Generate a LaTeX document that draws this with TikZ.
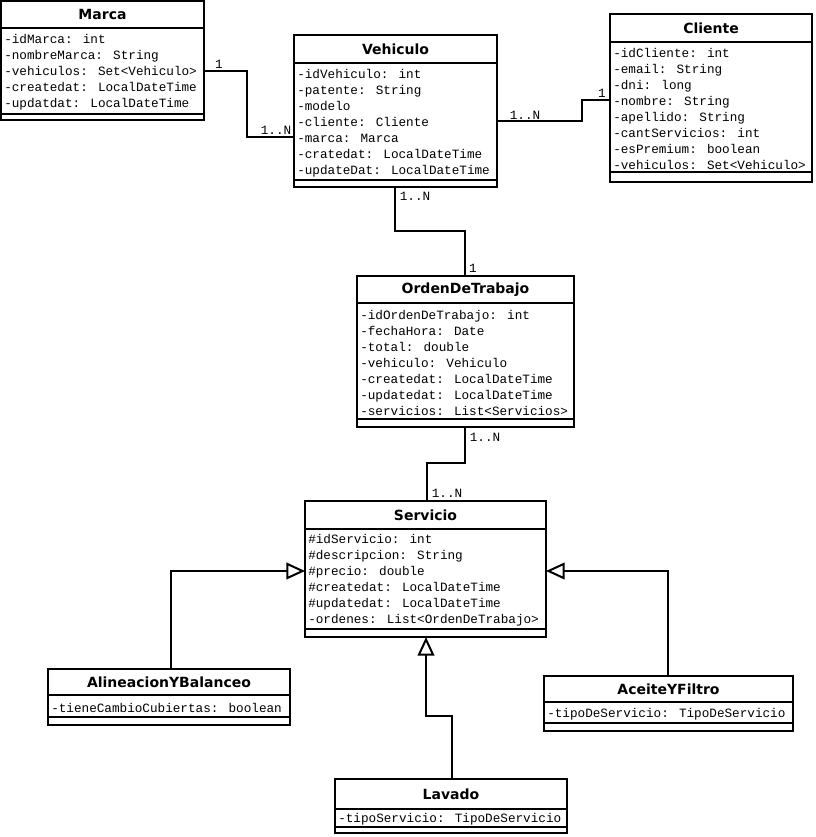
\documentclass[tikz,border=0pt]{standalone}
\usepackage{fontspec}
\usetikzlibrary{arrows.meta}
\newfontfamily\clsfont{DejaVu Sans}
\newfontfamily\memberfont{Liberation Mono}
\tikzset{
  frame/.style={draw, line width=1.5pt, inner sep=0pt, outer sep=0pt, anchor=north west},
  divider/.style={line width=1.5pt},
  clstitle/.style={inner sep=0pt, font=\clsfont\bfseries\fontsize{10.5}{12}\selectfont},
  members/.style={inner sep=0pt, anchor=west, align=left, font=\memberfont\fontsize{9.5}{12}\selectfont},
  mult/.style={inner sep=0pt, font=\memberfont\fontsize{9.5}{12}\selectfont},
  conn/.style={line width=1.5pt},
  gen/.style={conn, -{Triangle[open, length=14pt, width=12.5pt, line width=1.5pt]}}
}
% \umlclass{name}{x1}{y1}{x2}{y2}{title rule y}{attribute rule y}{title}{attributes}
\newcommand{\umlclass}[9]{%
  \node (#1) [frame, minimum width={(#4-#2)*0.75pt}, minimum height={(#5-#3)*0.75pt}] at (#2,#3) {};
  \draw[divider] (#2,#6) -- (#4,#6);
  \draw[divider] (#2,#7) -- (#4,#7);
  \node (#1-t) [clstitle] at ({(#2+#4)/2},{(#3+#6)/2+0.5}) {#8};
  \node (#1-a) [members] at ({#2+3},{(#6+#7)/2+1.5}) {#9};
}
\begin{document}
\begin{tikzpicture}[x=0.75pt, y=-0.75pt]
\useasboundingbox (0,0) rectangle (815,837);

\umlclass{marca}{1}{1}{204}{120}{28}{114}{Marca}
  {-idMarca: int\\-nombreMarca: String\\-vehiculos: Set<Vehiculo>\\-createdat: LocalDateTime\\-updatdat: LocalDateTime}

\umlclass{vehiculo}{294}{35}{497}{187}{63}{180}{Vehiculo}
  {-idVehiculo: int\\-patente: String\\-modelo\\-cliente: Cliente\\-marca: Marca\\-cratedat: LocalDateTime\\-updateDat: LocalDateTime}

\umlclass{cliente}{610}{14}{812}{182}{42}{172}{Cliente}
  {-idCliente: int\\-email: String\\-dni: long\\-nombre: String\\-apellido: String\\-cantServicios: int\\-esPremium: boolean\\-vehiculos: Set<Vehiculo>}

\umlclass{orden}{357}{276}{574}{427}{303}{419}{OrdenDeTrabajo}
  {-idOrdenDeTrabajo: int\\-fechaHora: Date\\-total: double\\-vehiculo: Vehiculo\\-createdat: LocalDateTime\\-updatedat: LocalDateTime\\-servicios: List<Servicios>}

\umlclass{servicio}{305}{501}{546}{637}{529}{629}{Servicio}
  {\#idServicio: int\\\#descripcion: String\\\#precio: double\\\#createdat: LocalDateTime\\\#updatedat: LocalDateTime\\-ordenes: List<OrdenDeTrabajo>}

\umlclass{alineacion}{48}{669}{290}{725}{695}{717}{AlineacionYBalanceo}
  {-tieneCambioCubiertas: boolean}

\umlclass{aceite}{544}{676}{793}{731}{702}{723}{AceiteYFiltro}
  {-tipoDeServicio: TipoDeServicio}

\umlclass{lavado}{335}{779}{567}{833}{809}{827}{Lavado}
  {-tipoServicio: TipoDeServicio}

% associations
\draw[conn] (marca.east |- 0,71) -- (247,71) |- (vehiculo.west |- 0,137);
\node (m1) [mult] at (219,64) {1};
\node (m2) [mult] at (276,130) {1..N};

\draw[conn] (vehiculo.east |- 0,121) -- (582,121) |- (cliente.west |- 0,100);
\node (m3) [mult] at (525,115) {1..N};
\node (m4) [mult] at (602,93) {1};

\draw[conn] (vehiculo.south -| 395,0) -- (395,231) -| (orden.north -| 465,0);
\node (m5) [mult] at (415,196) {1..N};
\node (m6) [mult] at (473,268) {1};

\draw[conn] (orden.south -| 465,0) -- (465,463) -| (servicio.north -| 427,0);
\node (m7) [mult] at (485,437) {1..N};
\node (m8) [mult] at (447,493) {1..N};

% generalizations
\draw[gen] (alineacion.north -| 171,0) |- (servicio.west |- 0,571);
\draw[gen] (aceite.north -| 668,0) |- (servicio.east |- 0,571);
\draw[gen] (lavado.north -| 452,0) -- (452,716) -| (servicio.south -| 426,0);
\end{tikzpicture}
\end{document}
